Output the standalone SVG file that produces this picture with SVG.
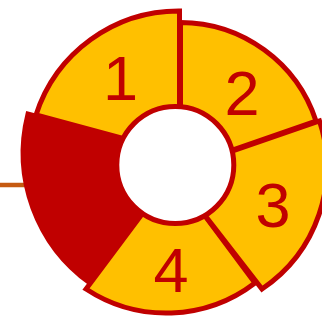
<svg xmlns="http://www.w3.org/2000/svg" width="322" height="320" viewBox="0 0 322 320">
  <style>
    .seg { fill: #FFC000; stroke: #C00000; stroke-width: 5; stroke-linejoin: miter; }
    .segred { fill: #C00000; stroke: #C00000; stroke-width: 5; }
    .lbl { font-family: "Liberation Sans", Arial, sans-serif; font-size: 63px; fill: #C00000; text-anchor: middle; }
    .hole { fill: #FFFFFF; stroke: #C00000; stroke-width: 5; }
  </style>
  <rect width="322" height="320" fill="#FFFFFF"/>
  <g id="connectors">
    <line x1="0" y1="185" x2="30" y2="185" stroke="#C55A11" stroke-width="4.5"/>
  </g>
  <g id="seg-red">
    <path class="segred" d="M28,114 A160,160 0 0 0 90,283 L185,155 Z"/>
  </g>
  <g id="seg-1">
    <path class="seg" d="M179.5,11 A150,150 0 0 0 36,115 L179.5,153.7 Z"/>
    <text class="lbl" x="120.5" y="100">1</text>
  </g>
  <g id="seg-2">
    <path class="seg" d="M180.5,22.5 A143,143 0 0 1 316,121 L180.5,168 Z"/>
    <text class="lbl" x="242" y="115">2</text>
  </g>
  <g id="seg-4">
    <path class="seg" d="M255,283 A146,146 0 0 1 86,289 L172.9,172.8 Z"/>
    <text class="lbl" x="171" y="292">4</text>
  </g>
  <g id="seg-3">
    <path class="seg" d="M319.5,121 A147,147 0 0 1 262,289 L200,209 L190,165.7 Z"/>
    <text class="lbl" x="273" y="227">3</text>
  </g>
  <g id="hole">
    <circle class="hole" cx="175.3" cy="165" r="58.5"/>
  </g>
</svg>
